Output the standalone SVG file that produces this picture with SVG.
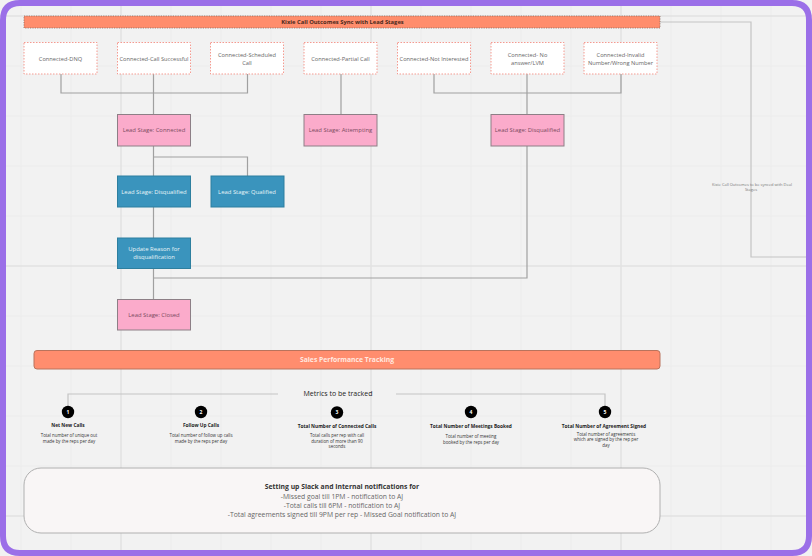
<svg xmlns="http://www.w3.org/2000/svg" width="812" height="556" viewBox="0 0 812 556">
<style>
text{font-family:"Open Sans","Liberation Sans",sans-serif;text-anchor:middle}
.gm{stroke:#ececec;stroke-width:1;fill:none}
.gM{stroke:#e2e2e2;stroke-width:1.5;fill:none}
.c{stroke:#a0a0a0;stroke-width:1.2;fill:none}
.cl{stroke:#c4c4c4;stroke-width:1.2;fill:none}
.o{fill:#fff;stroke:#f59a90;stroke-width:1;stroke-dasharray:1.5 1.5}
.p{fill:#fbabcb;stroke:#8d7f86;stroke-width:1}
.b{fill:#3a94bd;stroke:#2d7f9f;stroke-width:1}
.t{font-size:5.7px;fill:#666}
.tp{font-size:5.9px;fill:#7a4a60}
.tb{font-size:5.9px;fill:#e8f4f8}
.mh{font-size:4.8px;font-weight:700;fill:#222}
.md{font-size:4.4px;fill:#333}
.n{fill:#000}
.nt{font-size:5px;font-weight:700;fill:#fff}
</style>
<rect width="812" height="556" fill="#f2f2f2"/>
<g id="grid">
<path class="gm" d="M21 0V556M71 0V556M171 0V556M221 0V556M271 0V556M321 0V556M421 0V556M471 0V556M521 0V556M571 0V556M671 0V556M721 0V556M771 0V556M0 66H812M0 116H812M0 166H812M0 216H812M0 316H812M0 366H812M0 416H812M0 466H812"/>
<path class="gM" d="M121 0V556M371 0V556M621 0V556M0 16H812M0 266H812M0 516H812"/>
</g>
<g id="connectors">
<path class="c" d="M61 74V93H247.500V74M153.500 74V114M341 74V114M434 74V93H621V74M527 74V114M153.500 146V176M153.500 157H247.500V176M153.500 207V238M153.500 268V299M527 146V278H153.500"/>
<path class="cl" d="M660 22H751V257H806"/>
<path class="cl" d="M278 394H68V407M396 394H605V407"/>
</g>
<g id="header-1">
<rect x="24" y="16" width="636" height="12" fill="#ff8d6c" stroke="#8a6a5e" stroke-width=".8" stroke-dasharray="1.2 1.2"/>
<text x="342.500" y="23.700" font-size="5.800" font-weight="700" fill="#4a2a1e">Kixie Call Outcomes Sync with Lead Stages</text>
</g>
<g id="o1"><rect class="o" x="24" y="42.500" width="73" height="31.500"/><text class="t" x="60.500" y="60.500">Connected-DNQ</text></g>
<g id="o2"><rect class="o" x="117.500" y="42.500" width="73" height="31.500"/><text class="t" x="154" y="60.500">Connected-Call Successful</text></g>
<g id="o3"><rect class="o" x="210.500" y="42.500" width="73" height="31.500"/><text class="t" x="247" y="57">Connected-Scheduled</text><text class="t" x="247" y="64.500">Call</text></g>
<g id="o4"><rect class="o" x="304" y="42.500" width="73" height="31.500"/><text class="t" x="340.500" y="60.500">Connected-Partial Call</text></g>
<g id="o5"><rect class="o" x="397.500" y="42.500" width="73" height="31.500"/><text class="t" x="434" y="60.500">Connected-Not Interested</text></g>
<g id="o6"><rect class="o" x="491" y="42.500" width="73" height="31.500"/><text class="t" x="527.500" y="57">Connected- No</text><text class="t" x="527.500" y="64.500">answer/LVM</text></g>
<g id="o7"><rect class="o" x="584" y="42.500" width="73" height="31.500"/><text class="t" x="620.500" y="57">Connected-Invalid</text><text class="t" x="620.500" y="64.500">Number/Wrong Number</text></g>
<g id="s1"><rect class="p" x="117.500" y="114.500" width="73" height="31.500"/><text class="tp" x="154" y="132">Lead Stage: Connected</text></g>
<g id="s2"><rect class="p" x="304" y="114.500" width="73" height="31.500"/><text class="tp" x="340.500" y="132">Lead Stage: Attempting</text></g>
<g id="s3"><rect class="p" x="491" y="114.500" width="73" height="31.500"/><text class="tp" x="527.500" y="132">Lead Stage: Disqualified</text></g>
<g id="b1"><rect class="b" x="117.500" y="176" width="73" height="31"/><text class="tb" x="154" y="193.500">Lead Stage: Disqualified</text></g>
<g id="b2"><rect class="b" x="211" y="176" width="73" height="31"/><text class="tb" x="247" y="193.500">Lead Stage: Qualified</text></g>
<g id="b3"><rect class="b" x="117.500" y="238" width="73" height="30.500"/><text class="tb" x="154" y="251">Update Reason for</text><text class="tb" x="154" y="258.500">disqualification</text></g>
<g id="s4"><rect class="p" x="117.500" y="299.500" width="73" height="30.500"/><text class="tp" x="154" y="316.500">Lead Stage: Closed</text></g>
<g id="header-2">
<rect x="34" y="350.500" width="626" height="18.500" rx="3" fill="#ff8d6e" stroke="#b9735c" stroke-width="1"/>
<text x="347" y="362" font-size="6.800" font-weight="700" fill="#ffe9e0">Sales Performance Tracking</text>
</g>
<g id="metrics-title"><text x="338" y="396" font-size="7" fill="#222">Metrics to be tracked</text></g>
<g id="m1"><circle class="n" cx="68" cy="412" r="6.200"/><text class="nt" x="68" y="413.800">1</text><text class="mh" x="68" y="427">Net New Calls</text><text class="md" x="69" y="437">Total number of unique out</text><text class="md" x="69" y="442.500">made by the reps per day</text></g>
<g id="m2"><circle class="n" cx="201" cy="412" r="6.200"/><text class="nt" x="201" y="413.800">2</text><text class="mh" x="201" y="427">Follow Up Calls</text><text class="md" x="201" y="437">Total number of follow up calls</text><text class="md" x="201" y="442.500">made by the reps per day</text></g>
<g id="m3"><circle class="n" cx="337" cy="412.500" r="6.200"/><text class="nt" x="337" y="414.300">3</text><text class="mh" x="337" y="428">Total Number of Connected Calls</text><text class="md" x="337" y="437">Total calls per rep with call</text><text class="md" x="337" y="442.500">duration of more than 90</text><text class="md" x="337" y="448">seconds</text></g>
<g id="m4"><circle class="n" cx="471" cy="412" r="6.200"/><text class="nt" x="471" y="413.800">4</text><text class="mh" x="471" y="428">Total Number of Meetings Booked</text><text class="md" x="471" y="438">Total number of meeting</text><text class="md" x="471" y="443.500">booked by the reps per day</text></g>
<g id="m5"><circle class="n" cx="605" cy="412" r="6.200"/><text class="nt" x="605" y="413.800">5</text><text class="mh" x="604" y="428">Total Number of Agreement Signed</text><text class="md" x="606" y="435.500">Total number of agreements</text><text class="md" x="606" y="441">which are signed by the rep per</text><text class="md" x="606" y="446.500">day</text></g>
<g id="notifications">
<rect x="24" y="468" width="636" height="65" rx="17" fill="#f9f6f6" stroke="#b0b0b0" stroke-width="1"/>
<text x="342" y="489" font-size="6.800" font-weight="700" fill="#333">Setting up Slack and Internal notifications for</text>
<text x="342" y="498.500" font-size="6.800" fill="#666">-Missed goal till 1PM - notification to AJ</text>
<text x="342" y="507.500" font-size="6.800" fill="#666">-Total calls till 6PM - notification to AJ</text>
<text x="342" y="517" font-size="6.800" fill="#666">-Total agreements signed till 9PM per rep - Missed Goal notification to AJ</text>
</g>
<g id="side-note">
<text x="752" y="185.500" font-size="4" fill="#777">Kixie Call Outcomes to be synced with Deal</text>
<text x="751" y="190.500" font-size="4" fill="#777">Stages</text>
</g>
<g id="frame"><path fill="none" stroke="#9b6fe8" stroke-width="6" d="M3 20Q3 3 20 3H792Q809 3 809 20V536Q809 553 792 553H20Q3 553 3 536Z"/></g>
</svg>
